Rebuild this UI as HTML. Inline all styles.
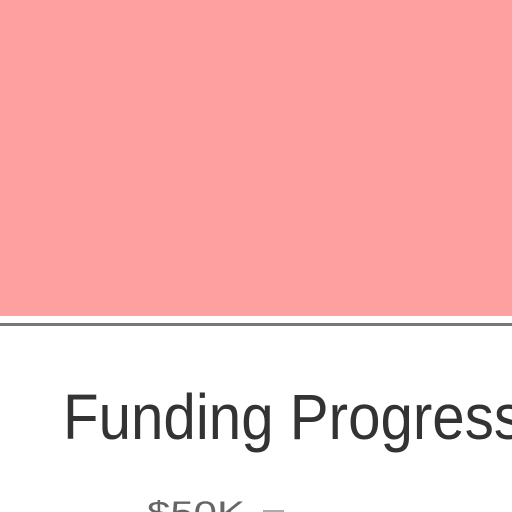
<!DOCTYPE html>
<html><head><meta charset="utf-8"><style>
html,body{margin:0;padding:0;width:512px;height:512px;overflow:hidden;background:#fff;}
</style></head><body>
<svg width="512" height="512" xmlns="http://www.w3.org/2000/svg">
<rect x="0" y="0" width="512" height="316" fill="#ffa0a0"/>
<rect x="0" y="323" width="512" height="3" fill="#777"/>
<text x="63" y="439" font-family="'Liberation Sans',sans-serif" font-size="64" fill="#333" textLength="460" lengthAdjust="spacingAndGlyphs">Funding Progress</text>
<text id="ytick" x="147" y="524" font-family="'Liberation Sans',sans-serif" font-size="32" fill="#666" textLength="98" lengthAdjust="spacingAndGlyphs"></text>
<line x1="263" y1="511" x2="284" y2="511" stroke="#aaa" stroke-width="2"/>
</svg>
<script>
const tickLabels = ["$50K"];
document.getElementById('ytick').textContent = tickLabels[0];
</script>
</body></html>
